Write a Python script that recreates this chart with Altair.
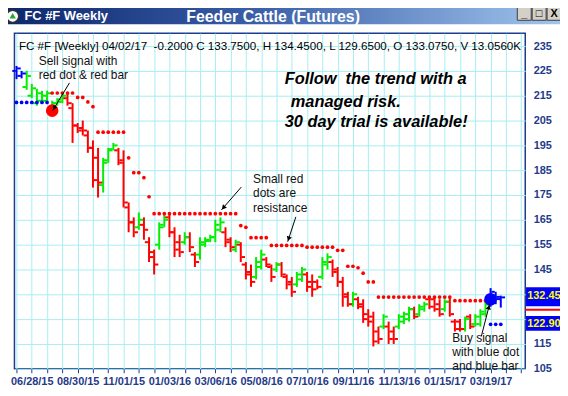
import math
import altair as alt
import pandas as pd

# ---------------- data ----------------
weeks = list(range(-3, 93))  # week index, 0 = 06/28/15
highs = [227, 225, 225, 219.8, 217.8, 217, 217, 213, 214, 215.7,
         216, 212, 204, 205, 201, 197, 194, 190, 194, 196,
         194, 193, 172, 166, 168, 166, 158, 153, 164, 167,
         168, 162, 159, 160, 160, 152, 158, 158, 159, 165,
         166, 162, 158, 157, 156, 148, 147, 150, 153, 150,
         147, 148, 148, 143, 142, 144, 146, 144, 143, 141,
         150, 151.5, 149, 146, 142, 136, 136, 134, 133, 129,
         128, 122, 127, 124, 122, 127, 128, 130, 130, 131,
         132, 134, 134, 133, 133, 134, 125, 125, 126, 127,
         127, 129, 132, 137.5, 136, 134.45]
lows = [221.7, 222, 217.4, 214, 211, 212, 212, 209, 211, 212,
        211, 196, 200, 199, 192, 178, 174, 176, 188, 193,
        187, 170, 160, 158, 161, 157, 148, 143, 153, 162,
        158, 150, 150, 155, 152, 146, 149, 154, 156, 156,
        160, 154, 152, 152, 148, 141, 138, 141, 145, 146,
        140, 144, 142, 137, 134, 138, 140, 136, 134, 137,
        141, 145, 142, 138, 130, 130, 130, 129, 123.5, 122,
        114, 115, 121, 115, 115, 121, 123, 124, 125, 126,
        128, 129, 128, 126, 128, 126, 120, 120, 120, 121,
        122, 122, 126, 130, 131, 129.65]
opens = [225, 223, 218.5, 215, 212, 213, 213, 210, 212, 212.5,
         214, 210, 203, 202, 199, 194, 190, 179, 189, 193.5,
         193, 189, 170, 164, 162, 163, 156, 150, 155, 163,
         166, 160, 156, 156, 158, 151, 151, 155, 156.5, 158,
         161, 160, 157, 153, 155, 147, 144, 142, 146, 149,
         146, 145, 147, 142, 140, 139, 141, 143, 140, 140,
         142, 147, 148, 145, 140, 135, 131, 133, 131, 127,
         126, 120, 122, 122, 120, 122, 124, 125, 129, 127,
         129, 133, 133, 131, 129, 132, 124, 124, 121, 126,
         123, 123, 127, 131, 134, 133.075]
closes = [226, 224, 223, 218, 216, 215, 216, 212, 213.5, 215,
          212, 203, 201, 201, 194, 181, 180, 188, 193, 195,
          188, 172, 164, 160, 165, 161, 152, 147, 162, 165,
          160, 153, 152, 158, 154, 148, 156, 157, 158, 163,
          164, 156, 154, 156, 150, 143, 140, 148, 151, 147,
          142, 147, 143, 139, 136, 143, 145, 138, 137, 138,
          148, 150, 144, 140, 134, 131, 135, 130, 125, 124,
          116, 117, 126, 117, 117, 126, 127, 129, 126, 130,
          131, 130, 129, 127, 132, 127, 121, 121, 125, 122,
          126, 128, 131, 136, 133.95, 133.75]
bar_colors = ["B", "B", "G", "G", "G", "G", "G", "G", "G", "G",
              "R", "R", "R", "R", "R", "R", "R", "G", "G", "G",
              "R", "R", "R", "R", "G", "R", "R", "R", "G", "G",
              "R", "R", "R", "G", "R", "R", "G", "G", "G", "G",
              "G", "R", "R", "G", "R", "R", "R", "G", "G", "R",
              "R", "G", "R", "R", "R", "G", "G", "R", "R", "R",
              "G", "G", "R", "R", "R", "R", "G", "R", "R", "R",
              "R", "R", "G", "R", "R", "G", "G", "G", "R", "G",
              "G", "R", "R", "R", "G", "R", "R", "R", "G", "R",
              "G", "G", "G", "B", "B", "B"]

stop_values = [212.3, 212.3, 212.3, 212.3, 212.3, 212.3, 212.3,
               216.1, 216.1, 216.1, 216.1, 216.1,
               214.3, 214.3, 212.5, 210.6,
               200.3, 200.3, 200.3, 200.3, 200.3, 200.3,
               190, 184, 184, 182, 174.3,
               167.5, 167.5, 167.5, 167.5, 167.5, 167.5, 167.5, 167.5, 167.5,
               167.5, 167.5, 167.5, 167.5, 167.5, 167.5, 167.5, 167.5,
               162.7, 162,
               157.8, 157.8, 157.8, 157.8,
               154.7, 154.7, 154.7, 154.7, 154.7, 154.7, 154.7,
               154, 154, 154, 154, 154, 154,
               152.7, 152.7, 146.3, 146.3, 145.7, 143.5, 140, 140,
               133.9, 133.9, 133.9, 133.9, 133.9, 133.9, 133.9, 133.9,
               133.9, 133.9, 133.9, 133.9, 133.9, 133.9, 133.9,
               132.45, 132.45, 132.45, 132.45, 132.45, 132.45, 132.45,
               122.9, 122.9, 122.9]
stop_colors = ["B"] * 7 + ["R"] * 86 + ["B"] * 3

signal_weeks = [4, 90]
signal_values = [209, 133]
signal_colors = ["R", "B"]

date_labels = ["06/28/15", "08/30/15", "11/01/15", "01/03/16", "03/06/16",
               "05/08/16", "07/10/16", "09/11/16", "11/13/16", "01/15/17",
               "03/19/17"]
x_tick_weeks = list(range(-3, 97, 3))
y_tick_values = list(range(105, 236, 10))

NB = "\u00a0"
header_text = ("FC #F [Weekly] 04/02/17" + NB + NB + "-0.2000 C 133.7500, H 134.4500, "
               "L 129.6500, O 133.0750, V 13.0560K")
window_title = "FC #F Weekly"
chart_title = "Feeder Cattle (Futures)"

note_text = ["Sell signal with", "red dot & red bar",
             "Small red", "dots are", "resistance",
             "Buy signal", "with blue dot", "and blue bar"]
note_w = [1.36, 1.36, 43.4, 43.4, 43.4, 82.5, 82.5, 82.5]
note_v = [229, 223.4, 181.4, 175.8, 169.8, 117.4, 111.8, 106.2]

promo_text = ["Follow" + NB + NB + "the trend with a", "managed risk.", "30 day trial is available!"]
promo_w = [49.6, 50.8, 49.6]
promo_v = [221.8, 212.6, 204.6]

arrow_from_w = [7.4, 41.1, 51.8, 88.2]
arrow_from_v = [220.2, 178.2, 166.2, 118.2]
arrow_to_w = [4.1, 37.2, 50.2, 89.8]
arrow_to_v = [209.0, 169.0, 156.2, 131.0]

last_labels = ["132.45", "122.90"]
last_values = [132.45, 122.9]

# ---------------- layout ----------------
X_DOMAIN = [-3.4, 96.8]
Y_DOMAIN = [105, 240.2]
W, H = 514.5, 338
FONT = "Liberation Sans"
NAVY = "#1f3b8a"

xs = alt.Scale(domain=X_DOMAIN, nice=False, zero=False)
ys = alt.Scale(domain=Y_DOMAIN, nice=False, zero=False)
cs = alt.Scale(domain=["B", "G", "R"], range=["#0000ff", "#00ee00", "#ff0000"])

bars = pd.DataFrame(dict(w=weeks, h=highs, l=lows, o=opens, c=closes, col=bar_colors))
stops = pd.DataFrame(dict(w=weeks, v=stop_values, col=stop_colors))
signals = pd.DataFrame(dict(w=signal_weeks, v=signal_values, col=signal_colors))
notes = pd.DataFrame(dict(w=note_w, v=note_v, t=note_text))
promo = pd.DataFrame(dict(w=promo_w, v=promo_v, t=promo_text))

pxw = W / (X_DOMAIN[1] - X_DOMAIN[0])
pxv = H / (Y_DOMAIN[1] - Y_DOMAIN[0])
heads = []
for w1, v1, w2, v2 in zip(arrow_from_w, arrow_from_v, arrow_to_w, arrow_to_v):
    dx = (w2 - w1) * pxw
    dy = -(v2 - v1) * pxv
    L = math.hypot(dx, dy)
    ux, uy = dx / L, dy / L
    ang = math.degrees(math.atan2(dx, -dy)) % 360
    heads.append(dict(w=w2 - 3 * ux / pxw, v=v2 + 3 * uy / pxv, ang=ang))
arrows = pd.DataFrame(dict(w1=arrow_from_w, v1=arrow_from_v, w2=arrow_to_w, v2=arrow_to_v))
heads = pd.DataFrame(heads)

labs = "[" + ",".join("'%s'" % d for d in date_labels) + "]"
x_label_expr = ("(datum.value %% 9 == 0 && datum.value >= 0 && datum.value / 9 < %d) ? %s[datum.value / 9] : ''"
                % (len(date_labels), labs))
y_label_expr = "(datum.value == 125 || datum.value == 135) ? '' : datum.label"

x_axis = alt.Axis(values=x_tick_weeks, labelExpr=x_label_expr, grid=True, gridColor="#a6eef2",
                  gridWidth=1, tickColor=NAVY, tickSize=4, tickWidth=1, domain=False, title=None,
                  labelColor=NAVY, labelFont=FONT, labelFontSize=11, labelFontWeight="bold",
                  labelPadding=3, labelFlush=False, labelOverlap=False)
y_axis = alt.Axis(orient="right", values=y_tick_values, labelExpr=y_label_expr, grid=True,
                  gridColor="#a6eef2", gridWidth=1, ticks=False, domain=False, title=None,
                  labelColor=NAVY, labelFont=FONT, labelFontSize=11, labelFontWeight="bold",
                  labelPadding=8, labelFlush=False, labelOverlap=False)


def X(f):
    return alt.X(f, scale=xs, axis=x_axis)


def Y(f):
    return alt.Y(f, scale=ys, axis=y_axis)


one = pd.DataFrame(dict(k=[0]))

hl = alt.Chart(bars).mark_rule(strokeWidth=2).encode(
    x=X("w:Q"), y=Y("l:Q"), y2="h:Q",
    color=alt.Color("col:N", scale=cs, legend=None),
)
open_t = alt.Chart(bars).mark_tick(orient="horizontal", size=3.5, thickness=2, xOffset=-2.5, opacity=1).encode(
    x=X("w:Q"), y=Y("o:Q"), color=alt.Color("col:N", scale=cs, legend=None),
)
close_t = alt.Chart(bars).mark_tick(orient="horizontal", size=3.5, thickness=2, xOffset=2.5, opacity=1).encode(
    x=X("w:Q"), y=Y("c:Q"), color=alt.Color("col:N", scale=cs, legend=None),
)
dots = alt.Chart(stops).mark_circle(size=14, opacity=1).encode(
    x=X("w:Q"), y=Y("v:Q"), color=alt.Color("col:N", scale=cs, legend=None),
)
big = alt.Chart(signals).mark_circle(size=160, opacity=1).encode(
    x=X("w:Q"), y=Y("v:Q"), color=alt.Color("col:N", scale=cs, legend=None),
)
arrow_lines = alt.Chart(arrows).mark_rule(color="#000000", strokeWidth=1).encode(
    x=X("w1:Q"), y=Y("v1:Q"), x2="w2:Q", y2="v2:Q",
)
arrow_heads = alt.Chart(heads).mark_point(shape="triangle-up", filled=True, size=28, color="#000000", opacity=1).encode(
    x=X("w:Q"), y=Y("v:Q"), angle=alt.Angle("ang:Q", scale=None),
)
note_layer = alt.Chart(notes).mark_text(align="left", baseline="middle", font=FONT, fontSize=12, color="#111111").encode(
    x=X("w:Q"), y=Y("v:Q"), text="t:N",
)
promo_layer = alt.Chart(promo).mark_text(align="left", baseline="middle", font=FONT, fontSize=16.5,
                                         fontWeight="bold", fontStyle="italic", color="#000000").encode(
    x=X("w:Q"), y=Y("v:Q"), text="t:N",
)
header = alt.Chart(pd.DataFrame(dict(t=[header_text]))).mark_text(
    align="left", baseline="middle", font=FONT, fontSize=11.7, color="#000000").encode(
    x=alt.value(4.5), y=alt.value(13), text="t:N")

# last-value boxes on the right axis
box_layers = []
for lab, val, top_off, bot_off, txt_off in zip(last_labels, last_values, [-13.5, -8.5], [5.6, 6.5], [-4.5, 0]):
    d = pd.DataFrame(dict(v=[val], t=[lab]))
    box_layers.append(alt.Chart(d).mark_rect(color="#0000ff", yOffset=top_off, y2Offset=bot_off).encode(
        x=alt.value(W + 0.8), x2=alt.value(W + 45), y=Y("v:Q"), y2="v:Q"))
    box_layers.append(alt.Chart(d).mark_text(align="left", baseline="middle", font=FONT, fontSize=11,
                                             fontWeight="bold", color="#ffff00", yOffset=txt_off).encode(
        x=alt.value(W + 2), y=Y("v:Q"), text="t:N"))
red_mark = alt.Chart(pd.DataFrame(dict(v=[128.8]))).mark_rule(color="#ff0000", strokeWidth=2).encode(
    x=alt.value(W), x2=alt.value(W + 45), y=Y("v:Q"))

# window title bar
grad = alt.LinearGradient(gradient="linear", x1=0, x2=1, y1=0, y2=0,
                          stops=[alt.GradientStop(color="#0a246a", offset=0),
                                 alt.GradientStop(color="#3a5ea8", offset=0.45),
                                 alt.GradientStop(color="#a6caf0", offset=1)])
bar_rect = alt.Chart(one).mark_rect(color=grad).encode(
    x=alt.value(-20), x2=alt.value(W + 50), y=alt.value(-30), y2=alt.value(-9))
title_small = alt.Chart(pd.DataFrame(dict(t=[window_title]))).mark_text(
    align="left", baseline="middle", font=FONT, fontSize=13, fontWeight="bold", color="#ffffff").encode(
    x=alt.value(10), y=alt.value(-17), text="t:N")
title_big = alt.Chart(pd.DataFrame(dict(t=[chart_title]))).mark_text(
    align="center", baseline="middle", font=FONT, fontSize=16, fontWeight="bold", color="#ffffff").encode(
    x=alt.value(260.5), y=alt.value(-16.5), text="t:N")
icon = alt.Chart(one).mark_point(shape="circle", filled=True, size=150, color="#ffffff",
                                 stroke="#333333", strokeWidth=1.5, opacity=1).encode(
    x=alt.value(-1.8), y=alt.value(-17))
icon_tri = alt.Chart(one).mark_point(shape="triangle-up", filled=True, size=40, color="#22aa33", opacity=1).encode(
    x=alt.value(-1.8), y=alt.value(-17.5))
btn_x = [506.5, 521.5, 536.5]
btn_g = ["_", "□", "X"]
btn_layers = []
for bx, g in zip(btn_x, btn_g):
    btn_layers.append(alt.Chart(one).mark_rect(color="#d4d0c8", stroke="#404040", strokeWidth=1).encode(
        x=alt.value(bx), x2=alt.value(bx + 14), y=alt.value(-27), y2=alt.value(-13)))
    btn_layers.append(alt.Chart(pd.DataFrame(dict(t=[g]))).mark_text(
        align="center", baseline="middle", font=FONT, fontSize=11, fontWeight="bold", color="#000000").encode(
        x=alt.value(bx + 7), y=alt.value(-19.5), text="t:N"))

chart = alt.layer(
    hl, open_t, close_t, dots, big, arrow_lines, arrow_heads, note_layer, promo_layer, header,
    *box_layers, red_mark, bar_rect, title_small, title_big, icon, icon_tri, *btn_layers,
).properties(
    width=W, height=H,
    autosize=alt.AutoSizeParams(type="none"),
    padding={"left": 6.5, "top": 24, "right": 35, "bottom": 18},
    background="#ffffff",
).configure_view(stroke="#1a3d8f", strokeWidth=1.5)

chart.save("out.html", embed_options={"renderer": "svg", "actions": False})
